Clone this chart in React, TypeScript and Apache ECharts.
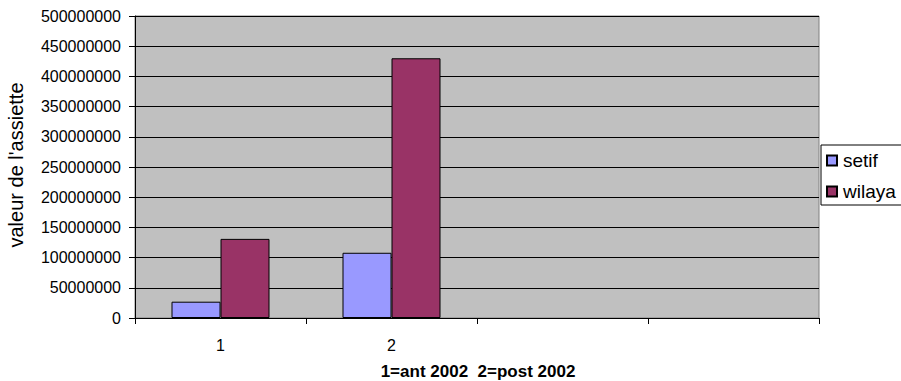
import React, { useEffect, useRef } from "react";
import * as echarts from "echarts";

const categories = ["1", "2", "", ""];
const setifValues = [27000000, 108000000, null, null];
const wilayaValues = [131000000, 430000000, null, null];
const yMin = 0;
const yMax = 500000000;
const yStep = 50000000;
const xTitle = "1=ant 2002  2=post 2002";
const yTitle = "valeur de l'assiette";

const FONT = "'Liberation Sans', Arial, sans-serif";

export default function App() {
  const ref = useRef<HTMLDivElement>(null);

  useEffect(() => {
    document.body.style.margin = "0";
    const chart = echarts.init(ref.current!, null, { renderer: "svg" });
    chart.setOption({
      animation: false,
      backgroundColor: "#ffffff",
      textStyle: { fontFamily: FONT, color: "#000" },
      grid: {
        left: 135,
        right: 82,
        top: 16,
        bottom: 63,
        show: true,
        backgroundColor: "#C0C0C0",
        borderColor: "#808080",
        borderWidth: 1,
      },
      legend: {
        orient: "vertical",
        left: 821,
        top: 145,
        z: 5,
        padding: [6, 4, 4, 5],
        itemGap: 12,
        itemWidth: 10,
        itemHeight: 10,
        icon: "rect",
        textStyle: { fontFamily: FONT, fontSize: 19, color: "#000", padding: [0, 0, 0, 1] },
        data: ["setif", "wilaya"],
      },
      xAxis: {
        type: "category",
        data: categories,
        boundaryGap: true,
        axisLine: { show: true, lineStyle: { color: "#000", width: 1 } },
        axisTick: { show: true, alignWithLabel: false, length: 6, lineStyle: { color: "#000" } },
        axisLabel: { fontFamily: FONT, fontSize: 16, color: "#000", margin: 19 },
        splitLine: { show: false },
      },
      yAxis: {
        type: "value",
        min: yMin,
        max: yMax,
        interval: yStep,
        axisLine: { show: true, lineStyle: { color: "#000", width: 1 } },
        axisTick: { show: true, length: 6, lineStyle: { color: "#000" } },
        axisLabel: {
          fontFamily: FONT,
          fontSize: 16,
          color: "#000",
          margin: 14,
          formatter: (v: number) => String(v),
        },
        splitLine: { show: true, lineStyle: { color: "#000", width: 1 } },
      },
      graphic: [
        {
          // legend frame, running off the right edge
          type: "rect",
          z: 1,
          shape: { x: 821, y: 145, width: 100, height: 60 },
          style: { fill: "#ffffff", stroke: "#000", lineWidth: 1 },
        },
        {
          type: "text",
          x: 478,
          y: 371,
          style: {
            text: xTitle,
            font: `bold 17px ${FONT}`,
            fill: "#000",
            textAlign: "center",
            textVerticalAlign: "middle",
          },
        },
        {
          type: "text",
          x: 16,
          y: 165,
          rotation: Math.PI / 2,
          style: {
            text: yTitle,
            font: `20px ${FONT}`,
            fill: "#000",
            textAlign: "center",
            textVerticalAlign: "middle",
          },
        },
      ],
      series: [
        {
          name: "setif",
          type: "bar",
          data: setifValues,
          barWidth: 49,
          barGap: "0%",
          itemStyle: { color: "#9999FF", borderColor: "#000", borderWidth: 1 },
        },
        {
          name: "wilaya",
          type: "bar",
          data: wilayaValues,
          barWidth: 49,
          barGap: "0%",
          itemStyle: { color: "#993366", borderColor: "#000", borderWidth: 1 },
        },
      ],
    });
    return () => chart.dispose();
  }, []);

  return <div ref={ref} style={{ width: 901, height: 381 }} />;
}
